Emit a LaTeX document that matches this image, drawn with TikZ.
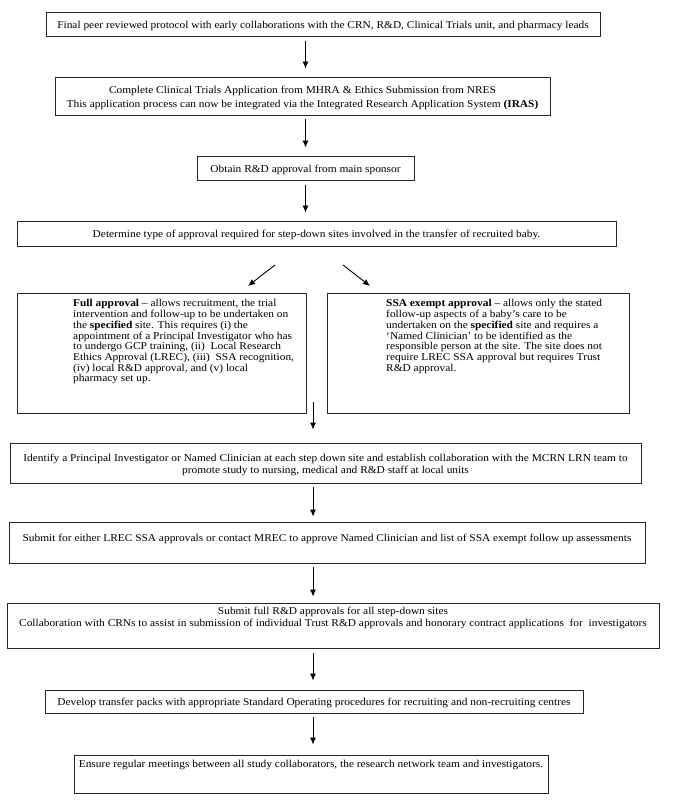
\documentclass[tikz,border=0pt]{standalone}
\usepackage{fontspec}
\setmainfont[FakeStretch=1.085]{Liberation Serif}
\usetikzlibrary{arrows.meta}
\begin{document}
\begin{tikzpicture}[x=1pt,y=-1pt,
  box/.style={draw=black!85, line width=0.9pt, inner sep=0pt, rectangle},
  txt/.style={inner sep=0pt, align=center, font=\fontsize{10.5}{12}\selectfont},
  ctxt/.style={txt, yshift=-1.5pt},
  sidetxt/.style={inner sep=0pt, align=left, anchor=north west, font=\fontsize{10.5}{10.7}\selectfont},
  arr/.style={line width=0.9pt, -{Latex[length=7pt,width=6pt]}}]
\useasboundingbox (0,0) rectangle (685,802);
\fill[white] (0,0) rectangle (685,802);

% boxes
\node[box, minimum width=554pt, minimum height=24pt] (b1) at (323,24) {};
\node[box, minimum width=495pt, minimum height=38pt] (b2) at (302.5,96) {};
\node[box, minimum width=217pt, minimum height=24pt] (b3) at (305.5,168) {};
\node[box, minimum width=599pt, minimum height=25pt] (b4) at (316.5,233.5) {};
\node[box, minimum width=289pt, minimum height=120pt] (b5) at (161.5,353) {};
\node[box, minimum width=302pt, minimum height=120pt] (b6) at (478,353) {};
\node[box, minimum width=631pt, minimum height=40pt] (b7) at (325.5,463) {};
\node[box, minimum width=636pt, minimum height=41pt] (b8) at (327,542.5) {};
\node[box, minimum width=652pt, minimum height=45pt] (b9) at (333,625.5) {};
\node[box, minimum width=538pt, minimum height=23pt] (b10) at (314,701.5) {};
\node[box, minimum width=474pt, minimum height=38pt] (b11) at (311,774) {};

% texts
\node[ctxt] (t1) at (b1.center)
  {Final peer reviewed protocol with early collaborations with the CRN, R\&D, Clinical Trials unit, and pharmacy leads};
\node[ctxt, font=\fontsize{10.5}{14}\selectfont] (t2) at (b2.center)
  {Complete Clinical Trials Application from MHRA \& Ethics Submission from NRES\\
   This application process can now be integrated via the Integrated Research Application System \textbf{(IRAS)}};
\node[ctxt] (t3) at (b3.center) {Obtain R\&D approval from main sponsor};
\node[ctxt] (t4) at (b4.center)
  {Determine type of approval required for step-down sites involved in the transfer of recruited baby.};
\node[sidetxt] (t5) at (73,299.5)
  {\textbf{Full approval} – allows recruitment, the trial\\
   intervention and follow-up to be undertaken on\\
   the \textbf{specified} site. This requires (i) the\\
   appointment of a Principal Investigator who has\\
   to undergo GCP training, (ii)\ \ Local Research\\
   Ethics Approval (LREC), (iii)\ \ SSA recognition,\\
   (iv) local R\&D approval, and (v) local\\
   pharmacy set up.};
\node[sidetxt] (t6) at (386,299.5)
  {\textbf{SSA exempt approval} – allows only the stated\\
   follow-up aspects of a baby’s care to be\\
   undertaken on the \textbf{specified} site and requires a\\
   ‘Named Clinician’ to be identified as the\\
   responsible person at the site. The site does not\\
   require LREC SSA approval but requires Trust\\
   R\&D approval.};
\node[ctxt] (t7) at (b7.center)
  {Identify a Principal Investigator or Named Clinician at each step down site and establish collaboration with the MCRN LRN team to\\
   promote study to nursing, medical and R\&D staff at local units};
\node[txt] (t8) at (327,539)
  {Submit for either LREC SSA approvals or contact MREC to approve Named Clinician and list of SSA exempt follow up assessments};
\node[txt] (t9) at (333,618)
  {Submit full R\&D approvals for all step-down sites\\
   Collaboration with CRNs to assist in submission of individual Trust R\&D approvals and honorary contract applications\ \ for\ \ investigators};
\node[ctxt] (t10) at (b10.center)
  {Develop transfer packs with appropriate Standard Operating procedures for recruiting and non-recruiting centres};
\node[txt] (t11) at (311,765)
  {Ensure regular meetings between all study collaborators, the research network team and investigators.};

% connector helpers
\coordinate (col) at (313,0);
\coordinate (dl1) at (275,265);
\coordinate (dl2) at (248,286);
\coordinate (dr1) at (343,265);
\coordinate (dr2) at (370,286);
\coordinate (mid) at (313,402);

\draw[arr, shorten <=5pt, shorten >=8pt] (b1.south -| b3) -- (b2.north -| b3);
\draw[arr, shorten <=4pt, shorten >=8pt] (b2.south -| b3) -- (b3.north);
\draw[arr, shorten <=5pt, shorten >=8pt] (b3.south) -- (b4.north -| b3);
\draw[arr] (dl1) -- (dl2);
\draw[arr] (dr1) -- (dr2);
\draw[arr, shorten >=13pt] (mid) -- (b7.north -| col);
\draw[arr, shorten <=4pt, shorten >=5pt] (b7.south -| col) -- (b8.north -| col);
\draw[arr, shorten <=4pt, shorten >=6pt] (b8.south -| col) -- (b9.north -| col);
\draw[arr, shorten <=5pt, shorten >=9pt] (b9.south -| col) -- (b10.north -| col);
\draw[arr, shorten <=4pt, shorten >=10pt] (b10.south -| col) -- (b11.north -| col);
\end{tikzpicture}
\end{document}
